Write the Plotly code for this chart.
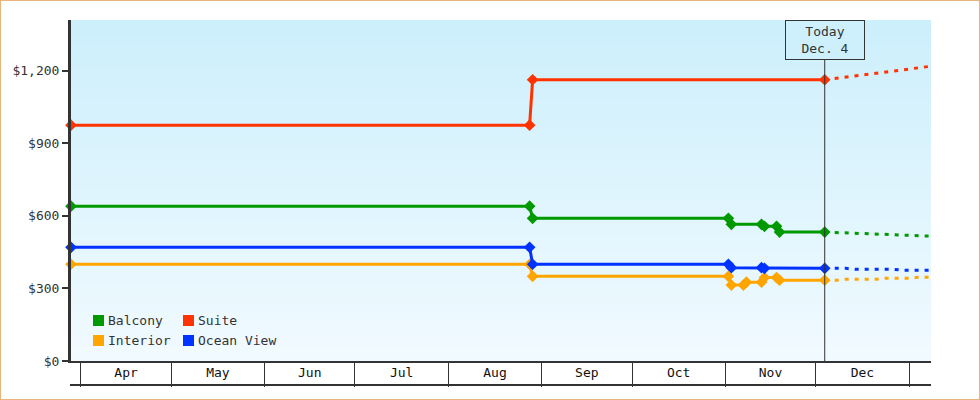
import plotly.graph_objects as go

# ---------------- data ----------------
series_names = ["Balcony", "Suite", "Interior", "Ocean View"]
series_colors = ["#009900", "#ff3300", "#ffa500", "#0033ff"]

start = "2023-03-28 17:00"
end = "2024-01-08 07:00"
today = "2023-12-04"
today_label = "Today<br>Dec. 4"

balcony_dates = [start, "2023-08-28", "2023-08-29", "2023-11-02", "2023-11-03",
                 "2023-11-13", "2023-11-14", "2023-11-18", "2023-11-19", today]
balcony_prices = [640, 640, 590, 590, 565, 565, 557, 557, 533, 533]

suite_dates = [start, "2023-08-28", "2023-08-29", today]
suite_prices = [975, 975, 1163, 1163]

interior_dates = [start, "2023-08-28", "2023-08-29", "2023-11-02", "2023-11-03",
                  "2023-11-07", "2023-11-08", "2023-11-13", "2023-11-14",
                  "2023-11-18", "2023-11-19", today]
interior_prices = [400, 400, 350, 350, 314, 314, 326, 326, 345, 345, 334, 334]

ocean_dates = [start, "2023-08-28", "2023-08-29", "2023-11-02", "2023-11-03",
               "2023-11-13", "2023-11-14", today]
ocean_prices = [470, 470, 400, 400, 386, 386, 383, 383]

# forecasts (dotted)
balcony_fc_dates = [today, "2023-12-09", "2023-12-16", "2023-12-25", "2024-01-01", "2024-01-09"]
balcony_fc_prices = [533, 531, 527, 522, 519, 516]

suite_fc_dates = [today, "2023-12-11", "2023-12-18", "2023-12-25", "2024-01-01", "2024-01-09"]
suite_fc_prices = [1163, 1174, 1185, 1197, 1208, 1220]

interior_fc_dates = [today, "2023-12-08", "2023-12-11", "2023-12-21", "2023-12-24",
                     "2024-01-01", "2024-01-04", "2024-01-09"]
interior_fc_prices = [334, 334, 338, 338, 342, 342, 346, 346]

ocean_fc_dates = [today, "2023-12-11", "2023-12-14", "2023-12-27", "2023-12-30", "2024-01-09"]
ocean_fc_prices = [383, 383, 379, 379, 375, 375]

y_ticks = [0, 300, 600, 900, 1200]
y_tick_labels = ["$0", "$300", "$600", "$900", "$1,200"]
y_max = 1410

# ---------------- figure ----------------
W, H = 980, 400
PL, PT, PW, PH = 71, 20, 860, 341
FONT = "DejaVu Sans Mono"
DARK = "#333333"


def px(xp):
    return (xp - PL) / PW


def py(yp):
    return (PT + PH - yp) / PH


hist = [(balcony_dates, balcony_prices), (suite_dates, suite_prices),
        (interior_dates, interior_prices), (ocean_dates, ocean_prices)]
fc = [(balcony_fc_dates, balcony_fc_prices), (suite_fc_dates, suite_fc_prices),
      (interior_fc_dates, interior_fc_prices), (ocean_fc_dates, ocean_fc_prices)]

fig = go.Figure()
# draw order: interior, ocean, balcony, suite (blue over orange)
order = [2, 3, 0, 1]
for i in order:
    d, v = fc[i]
    fig.add_trace(go.Scatter(x=d, y=v, mode="lines", name=series_names[i],
                             line=dict(color=series_colors[i], width=3, dash="4px,6px"),
                             showlegend=False, cliponaxis=True))
for i in order:
    d, v = hist[i]
    fig.add_trace(go.Scatter(x=d, y=v, mode="lines+markers", name=series_names[i],
                             line=dict(color=series_colors[i], width=3),
                             marker=dict(symbol="diamond", size=9, color=series_colors[i]),
                             showlegend=False, cliponaxis=False))

# dummy trace for the label axis
fig.add_trace(go.Scatter(x=[None], y=[None], xaxis="x2", showlegend=False, hoverinfo="skip"))

shapes = []
# gradient background (overlapping bands to avoid seams)
N = 70
top = (204, 239, 252)
bot = (241, 250, 255)
for k in range(N):
    t = (k + 0.5) / N
    c = tuple(round(bot[j] + (top[j] - bot[j]) * t) for j in range(3))
    shapes.append(dict(type="rect", xref="paper", yref="paper", x0=0, x1=1,
                       y0=k / N, y1=min(1.0, (k + 1.6) / N), fillcolor="rgb(%d,%d,%d)" % c,
                       line=dict(width=0), layer="below"))
# today line
shapes.append(dict(type="line", xref="x", yref="paper", x0=today, x1=today, y0=0, y1=1,
                   line=dict(color=DARK, width=1), layer="above"))
# bottom line of the month cells
shapes.append(dict(type="line", xref="paper", yref="paper", x0=px(70), x1=1,
                   y0=py(385), y1=py(385), line=dict(color=DARK, width=2)))
# outer border
shapes.append(dict(type="rect", xref="paper", yref="paper", x0=px(0), x1=px(W),
                   y0=py(H), y1=py(0), line=dict(color="#e9b57a", width=2)))

annotations = []
# legend (2 columns)
leg_pos = [(93, 320.5), (183, 320.5), (93, 340.5), (183, 340.5)]
for i, (lx, ly) in enumerate(leg_pos):
    shapes.append(dict(type="rect", xref="paper", yref="paper", x0=px(lx), x1=px(lx + 11),
                       y0=py(ly + 5.5), y1=py(ly - 5.5), fillcolor=series_colors[i],
                       line=dict(width=0)))
    annotations.append(dict(xref="paper", yref="paper", x=px(lx + 13), y=py(ly),
                            xanchor="left", yanchor="middle", showarrow=False,
                            text=series_names[i], font=dict(family=FONT, size=13, color=DARK)))
# today box
annotations.append(dict(xref="x", yref="paper", x=today, y=1, xanchor="center", yanchor="top",
                        showarrow=False, text=today_label, width=76, height=36,
                        borderpad=1, borderwidth=1, bordercolor=DARK, bgcolor="#cdf0fc",
                        font=dict(family=FONT, size=13, color=DARK)))

fig.update_layout(
    width=W, height=H,
    margin=dict(l=PL, r=W - PL - PW, t=PT, b=H - PT - PH),
    paper_bgcolor="white", plot_bgcolor="rgba(0,0,0,0)",
    font=dict(family=FONT, size=13, color=DARK),
    showlegend=False,
    shapes=shapes, annotations=annotations,
    xaxis=dict(type="date", range=[start, end], dtick="M1", tick0="2023-04-01",
               ticks="outside", ticklen=24, tickwidth=1, tickcolor=DARK,
               showticklabels=False, showline=True, linecolor=DARK, linewidth=2,
               showgrid=False, zeroline=False),
    xaxis2=dict(type="date", range=[start, end], overlaying="x", anchor="y", side="bottom",
                dtick="M1", tick0="2023-04-01", ticklabelmode="period", tickformat="%b",
                ticks="", showline=False, showgrid=False, zeroline=False,
                ticklabelstandoff=2,
                tickfont=dict(family=FONT, size=13, color="#111111")),
    yaxis=dict(range=[0, y_max], tickmode="array", tickvals=y_ticks, ticktext=y_tick_labels,
               ticks="outside", ticklen=6, tickwidth=2, tickcolor=DARK,
               showline=True, linecolor=DARK, linewidth=3, showgrid=False, zeroline=False,
               tickfont=dict(family=FONT, size=13, color=DARK)),
)

fig.write_html("out.html", config={"displayModeBar": False},
               post_script="document.body.style.margin='0';document.body.style.overflow='hidden';")
